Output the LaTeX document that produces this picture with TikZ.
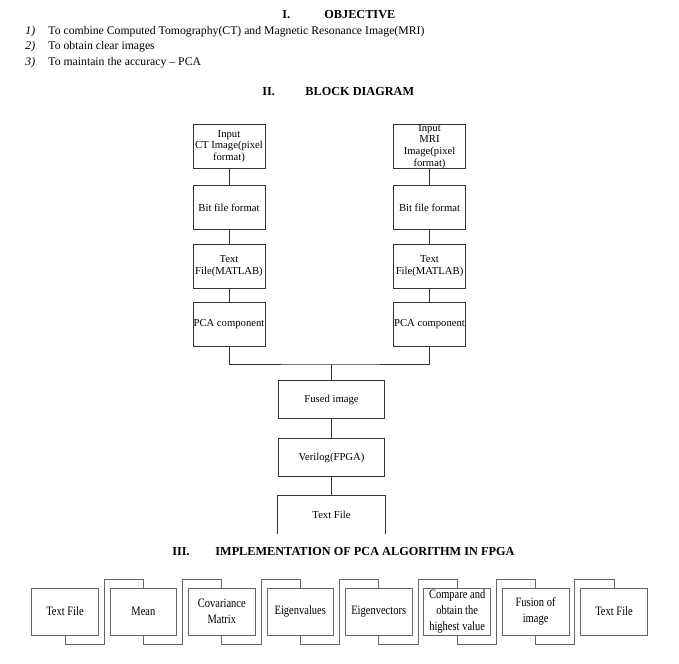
\documentclass[tikz,border=0pt]{standalone}
\usepackage{fontspec}
\setmainfont{Liberation Serif}
\newfontfamily\narrowfont[FakeStretch=0.82]{Liberation Serif}
\usetikzlibrary{positioning,calc}

\begin{document}
\begin{tikzpicture}[x=0.75pt,y=-0.75pt,on grid,
line width=0.6pt,
block/.style ={rectangle ,draw=black!80 ,minimum width =54pt ,
minimum height =33pt ,text width =54pt ,inner sep =0pt ,align =flush center ,
font=\fontsize{8}{8.8}\selectfont},
wide/.style ={block ,minimum width =80pt ,text width =80pt ,minimum height =28pt},
stage/.style ={rectangle ,draw=black!60 ,minimum width =50pt ,text width =50pt ,
minimum height =35.25pt ,inner sep =0pt ,align =flush center ,
font=\narrowfont\fontsize{9.6}{11.7}\selectfont},
link/.style ={draw=black!60},
heading/.style ={anchor=base west ,inner sep=0pt ,font=\bfseries\fontsize{9.2}{11}\selectfont},
item/.style ={anchor=base west ,inner sep=0pt ,font=\fontsize{8.8}{11}\selectfont}]
\useasboundingbox (0,0) rectangle (679,664);

% objective
\node[heading] (numI) at (282,18) {I.};
\node[heading] (objective) at (324,18) {OBJECTIVE};
\foreach \t [count=\i] in {To combine Computed Tomography(CT) and Magnetic Resonance Image(MRI),
To obtain clear images, To maintain the accuracy -- PCA}{
\node[item] (num\i) at (25,{18.5+15.5*\i}) {\itshape \i)};
\node[item] (goal\i) at (48,{18.5+15.5*\i}) {\t};
}

% block diagram
\node[heading] (numII) at (262,95) {II.};
\node[heading] (blockdiagram) at (305,95) {BLOCK DIAGRAM};
\node[block] (ct) at (229,146.5) {Input\\CT Image(pixel\\format)};
\node[block] (bitL) [below =46pt of ct] {Bit file format};
\node[block] (txtL) [below =44pt of bitL] {Text\\File(MATLAB)};
\node[block] (pcaL) [below =43.5pt of txtL] {PCA component};
\node[block] (mri) [right =150.4pt of ct] {Input\\MRI\\Image(pixel\\format)};
\node[block] (bitR) [right =150.4pt of bitL] {Bit file format};
\node[block] (txtR) [right =150.4pt of txtL] {Text\\File(MATLAB)};
\node[block] (pcaR) [right =150.4pt of pcaL] {PCA component};
\coordinate (join) at (331.5,364);
\node[wide] (fused) at (331.5,399.5) {Fused image};
\node[wide] (verilog) [below =43.5pt of fused] {Verilog(FPGA)};
\node[wide,draw=none] (txtout) [below =42.75pt of verilog] {Text File};
\draw[black!80] (ct) -- (bitL) -- (txtL) -- (pcaL);
\draw[black!80] (mri) -- (bitR) -- (txtR) -- (pcaR);
\draw[black!80] (pcaL) |- (join) -| (pcaR);
\draw[black!80] (join) -- (fused) -- (verilog) -- (txtout);
\draw[black!80] (txtout.south west) |- (txtout.north east) -- (txtout.south east);

% implementation
\node[heading] (numIII) at (172,555) {III.};
\node[heading] (implementation) at (215,555) {IMPLEMENTATION OF PCA ALGORITHM IN FPGA};
\foreach \t [count=\i] in {Text File, Mean, Covariance\\Matrix, Eigenvalues, Eigenvectors,
Compare and\\obtain the\\highest value, Fusion of\\image, Text File}
\node[stage] (s\i) at ({65+78.43*(\i-1)},611.5) {\t};
\foreach \i [evaluate=\i as \j using int(\i+1)] in {1,...,7}
\draw[link] (s\i.south) -- ++(0,9) -| ($(s\i.east)!.5!(s\j.west)$)
|- ([yshift=6.5pt]s\j.north) -- (s\j.north);
\end{tikzpicture}
\end{document}
